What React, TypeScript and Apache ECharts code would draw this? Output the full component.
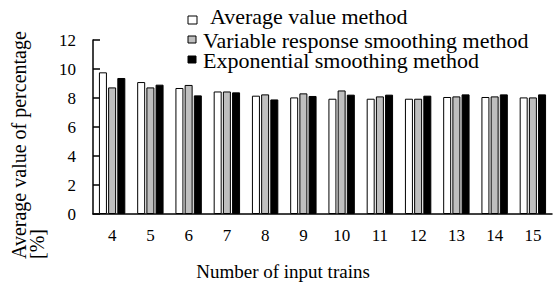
import React, { useEffect, useRef } from "react";
import * as echarts from "echarts";

const categories = ["4", "5", "6", "7", "8", "9", "10", "11", "12", "13", "14", "15"];
const seriesNames = [
  "Average value method",
  "Variable response smoothing method",
  "Exponential smoothing method",
];
const averageValues = [9.77, 9.1, 8.69, 8.45, 8.16, 8.04, 7.95, 7.95, 7.95, 8.07, 8.07, 8.04];
const variableValues = [8.73, 8.73, 8.9, 8.45, 8.25, 8.32, 8.52, 8.11, 7.95, 8.11, 8.11, 8.04];
const exponentialValues = [9.38, 8.92, 8.18, 8.39, 7.9, 8.14, 8.23, 8.23, 8.16, 8.25, 8.25, 8.25];
const yMin = 0;
const yMax = 12;
const yInterval = 2;

const FONT = "'Liberation Serif', 'Times New Roman', serif";

export default function App() {
  const ref = useRef<HTMLDivElement>(null);
  useEffect(() => {
    if (!ref.current) return;
    const chart = echarts.init(ref.current, undefined, { renderer: "svg" });
    const fills = ["#ffffff", "#bfbfbf", "#000000"];
    const values = [averageValues, variableValues, exponentialValues];
    // legend layout (drawn as graphic to match the reference's irregular placement)
    const iconBoxes = [
      { x: 188, y: 16, w: 9, h: 8 },
      { x: 188, y: 36, w: 8, h: 7 },
      { x: 188, y: 56, w: 8, h: 7 },
    ];
    const textPos = [
      { x: 210, y: 17 },
      { x: 203, y: 41.5 },
      { x: 203, y: 61.5 },
    ];
    const legendGraphics: any[] = [];
    seriesNames.forEach((name, i) => {
      const b = iconBoxes[i];
      legendGraphics.push({
        type: "rect",
        shape: { x: b.x, y: b.y, width: b.w, height: b.h },
        style: { fill: fills[i], stroke: "#000", lineWidth: 1 },
      });
      legendGraphics.push({
        type: "text",
        x: textPos[i].x,
        y: textPos[i].y,
        scaleX: 1.1,
        style: {
          text: name,
          font: `20px ${FONT}`,
          fill: "#000",
          textAlign: "left",
          textVerticalAlign: "middle",
          lineHeight: 19,
        },
      });
    });
    chart.setOption({
      animation: false,
      backgroundColor: "#ffffff",
      textStyle: { fontFamily: FONT, color: "#000" },
      grid: { left: 93, right: 1, top: 40, bottom: 72, containLabel: false },
      xAxis: {
        type: "category",
        data: categories,
        axisLine: { lineStyle: { color: "#000", width: 1.5 } },
        axisTick: { inside: true, length: 4, lineStyle: { color: "#000", width: 1.5 } },
        axisLabel: { fontFamily: FONT, fontSize: 17, color: "#000", margin: 13 },
      },
      yAxis: {
        type: "value",
        min: yMin,
        max: yMax,
        interval: yInterval,
        axisLine: { show: true, lineStyle: { color: "#000", width: 1.5 } },
        axisTick: { show: true, inside: true, length: 7, lineStyle: { color: "#000", width: 1.5 } },
        splitLine: { show: false },
        axisLabel: { fontFamily: FONT, fontSize: 17, color: "#000", margin: 17 },
      },
      series: seriesNames.map((name, i) => ({
        name,
        type: "bar",
        data: values[i],
        barWidth: 8,
        barGap: "15%",
        itemStyle: { color: fills[i], borderColor: "#000", borderWidth: 1 },
      })),
      graphic: [
        ...legendGraphics,
        {
          type: "text",
          x: 10,
          y: 259,
          rotation: Math.PI / 2,
          style: {
            text: "Average value of percentage\n[%]",
            font: `20px ${FONT}`,
            fill: "#000",
            textAlign: "left",
            textVerticalAlign: "top",
            lineHeight: 18,
          },
        },
        {
          type: "text",
          x: 283,
          y: 271,
          style: {
            text: "Number of input trains",
            font: `19px ${FONT}`,
            fill: "#000",
            textAlign: "center",
            textVerticalAlign: "middle",
          },
        },
      ],
    });
    return () => chart.dispose();
  }, []);
  return <div ref={ref} style={{ width: 553, height: 286, position: "absolute", left: 0, top: 0 }} />;
}
